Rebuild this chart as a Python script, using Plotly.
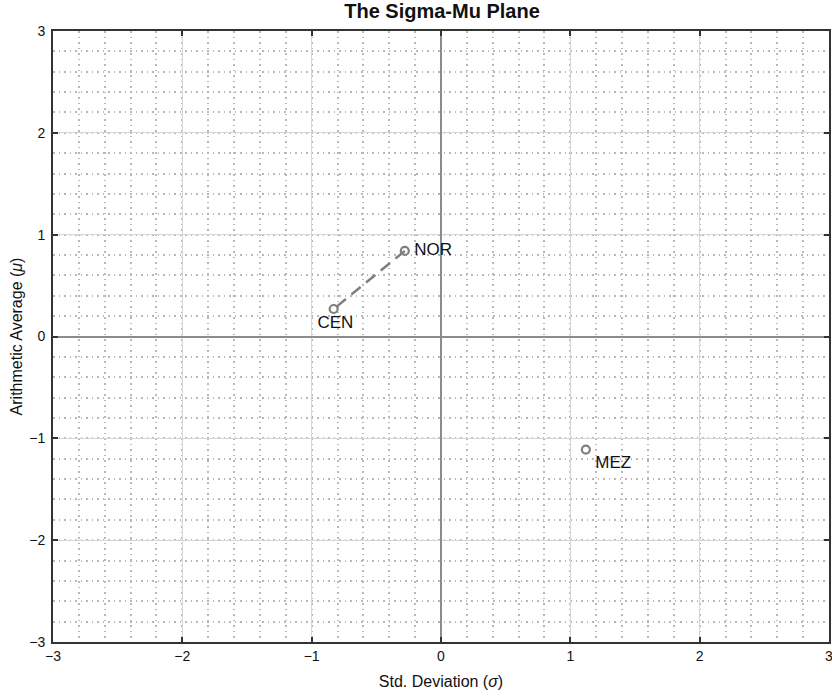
import plotly.graph_objects as go

labels = ["NOR", "CEN", "MEZ"]
sigma = [-0.28, -0.83, 1.12]
mu = [0.84, 0.27, -1.11]
line_pts = ["NOR", "CEN"]
text_pos = ["middle right", "bottom center", "bottom right"]
ticks = [-3, -2, -1, 0, 1, 2, 3]

FONT = "Liberation Sans, Arial"

fig = go.Figure()
lx = [sigma[labels.index(n)] for n in line_pts]
ly = [mu[labels.index(n)] for n in line_pts]
fig.add_trace(go.Scatter(x=lx, y=ly, mode="lines",
                         line=dict(color="#7f7f7f", width=2.5, dash="12px,7px"),
                         hoverinfo="skip", showlegend=False))
fig.add_trace(go.Scatter(x=sigma, y=mu, mode="markers+text",
                         text=["\u2009" + t for t in labels],
                         textposition=text_pos,
                         textfont=dict(family=FONT, size=17, color="#111"),
                         marker=dict(symbol="circle-open", size=8, color="#7f7f7f",
                                     line=dict(width=2.2)),
                         showlegend=False))

axis_common = dict(
    range=[-3, 3], tickvals=ticks, ticktext=[("\u2212%d" % -t) if t < 0 else str(t) for t in ticks],
    ticks="inside", ticklen=5, tickcolor="#333", tickwidth=2,
    showline=True, linecolor="#333", linewidth=2, mirror="ticks",
    showgrid=True, gridcolor="#d6d6d6", gridwidth=1.2,
    zeroline=True, zerolinecolor="#8c8c8c", zerolinewidth=2,
    minor=dict(dtick=0.2, showgrid=True, gridcolor="#b8b8b8", griddash="1.5px,4px", gridwidth=1.5, ticks=""),
    tickfont=dict(family=FONT, size=14, color="#111"),
    automargin=False, ticklabeloverflow="allow",
)

fig.update_xaxes(**axis_common,
                 title=dict(text="Std. Deviation (<i>σ</i>)", standoff=13,
                            font=dict(family=FONT, size=16, color="#111")))
fig.update_yaxes(**axis_common, ticklabelstandoff=3,
                 title=dict(text="Arithmetic Average (<i>μ</i>)", standoff=3,
                            font=dict(family=FONT, size=16, color="#111")))

fig.update_layout(
    width=832, height=696,
    margin=dict(l=53, r=3, t=31, b=54, autoexpand=False),
    plot_bgcolor="white", paper_bgcolor="white",
    title=dict(text="<b>The Sigma-Mu Plane</b>", x=442 / 832, xref="container", xanchor="center",
               y=1, yref="container", yanchor="top", pad=dict(t=4),
               font=dict(family=FONT, size=20, color="#111")),
)

fig.write_html("out.html", config={"displayModeBar": False},
               post_script="document.body.style.margin='0';document.body.style.overflow='hidden';")
